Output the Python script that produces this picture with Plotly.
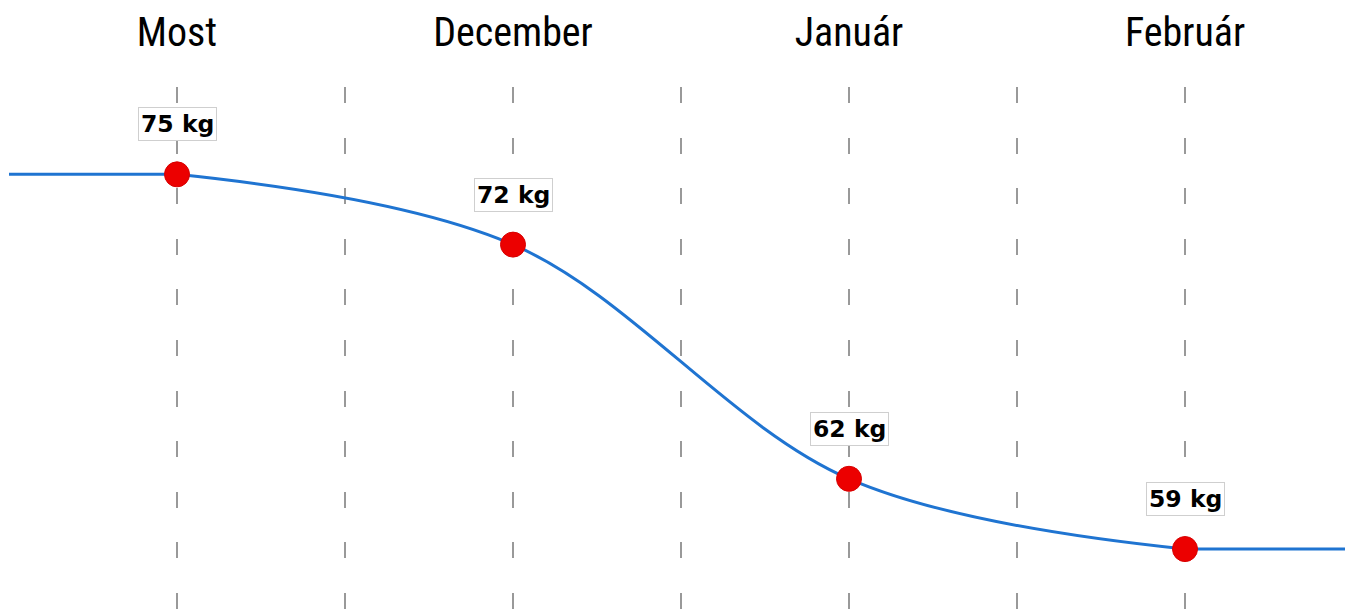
import plotly.graph_objects as go

categories = ["Most", "December", "Január", "Február"]
weights = [75, 72, 62, 59]
labels = ["75 kg", "72 kg", "62 kg", "59 kg"]

cat_pos = list(range(len(categories)))

fig = go.Figure()
# flat extensions toward the plot edges
fig.add_trace(go.Scatter(
    x=[-0.5, cat_pos[0]], y=[weights[0], weights[0]], mode="lines",
    line=dict(color="#1f74d1", width=3), hoverinfo="skip", showlegend=False,
))
fig.add_trace(go.Scatter(
    x=[cat_pos[-1], 3.5], y=[weights[-1], weights[-1]], mode="lines",
    line=dict(color="#1f74d1", width=3), hoverinfo="skip", showlegend=False,
))
fig.add_trace(go.Scatter(
    x=cat_pos, y=weights, mode="lines",
    line=dict(color="#1f74d1", width=3, shape="spline", smoothing=1),
    hoverinfo="skip", showlegend=False,
))
fig.add_trace(go.Scatter(
    x=cat_pos, y=weights, mode="markers",
    marker=dict(color="rgb(236,0,0)", size=25, line=dict(color="rgb(215,0,0)", width=1)),
    showlegend=False,
))
for xi, yi, t in zip(cat_pos, weights, labels):
    fig.add_annotation(
        x=xi, y=yi, text="<b>" + t + "</b>", showarrow=False, yshift=50,
        font=dict(family="DejaVu Sans", size=23.5, color="black"),
        bgcolor="white", bordercolor="#cfcfcf", borderwidth=1, borderpad=2,
    )

tickvals = [i * 0.5 for i in range(7)]
ticktext = [categories[int(v)] if v == int(v) else "" for v in tickvals]

fig.update_layout(
    width=1345, height=609,
    margin=dict(l=9, r=0, t=87, b=0),
    paper_bgcolor="white", plot_bgcolor="white",
    xaxis=dict(
        range=[-0.5, 3.4762], side="top", tickvals=tickvals, ticktext=ticktext,
        showgrid=True, gridcolor="#999999", gridwidth=2, griddash="16px,34.6px",
        zeroline=False, showline=False, ticks="", ticklabelstandoff=32,
        tickfont=dict(family="Roboto Condensed, Liberation Sans Narrow, Roboto", size=40, color="black"),
    ),
    yaxis=dict(range=[56.44, 78.73], showgrid=False, zeroline=False,
               showticklabels=False, showline=False),
)

fig.write_html("out.html")
